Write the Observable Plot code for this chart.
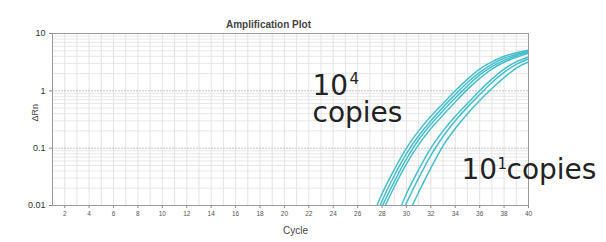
<!DOCTYPE html>
<html><head><meta charset="utf-8">
<script src="https://cdn.jsdelivr.net/npm/d3@7"></script>
<script src="https://cdn.jsdelivr.net/npm/@observablehq/plot@0.6"></script>
<style>html,body{margin:0;padding:0;background:#fff;}svg{display:block;}</style>
</head><body><div id="chart"></div>
<script>
const titleText = "Amplification Plot";
const xLabel = "Cycle";
const yLabel = "ΔRn";
const highLines = "10\ncopies";
const highExp = "4";
const lowBase = "10";
const lowExp = "1";
const lowWord = "copies";

const cycles = [27, 28, 29, 30, 31, 32, 33, 34, 35, 36, 37, 38, 39, 40];
const curveA = [0.005, 0.016, 0.042, 0.1, 0.2, 0.36, 0.6, 1.0, 1.6, 2.4, 3.2, 4.0, 4.6, 5.1];
const curveB = [0.0036, 0.012, 0.033, 0.08, 0.165, 0.3, 0.52, 0.86, 1.4, 2.1, 2.9, 3.7, 4.3, 4.9];
const curveC = [0.0028, 0.0095, 0.026, 0.065, 0.14, 0.26, 0.45, 0.75, 1.22, 1.9, 2.65, 3.4, 4.1, 4.7];
const curveD = [0.0022, 0.0075, 0.021, 0.053, 0.115, 0.22, 0.38, 0.64, 1.06, 1.65, 2.4, 3.15, 3.85, 4.5];
const curveE = [0.0007, 0.0018, 0.005, 0.016, 0.042, 0.1, 0.2, 0.36, 0.6, 1.0, 1.6, 2.4, 3.2, 3.9];
const curveF = [0.0005, 0.0013, 0.0035, 0.011, 0.03, 0.075, 0.16, 0.3, 0.52, 0.86, 1.4, 2.1, 2.9, 3.6];
const curveG = [0.0003, 0.0008, 0.002, 0.006, 0.017, 0.045, 0.11, 0.22, 0.4, 0.68, 1.1, 1.7, 2.5, 3.2];
const curveNames = ["A", "B", "C", "D", "E", "F", "G"];
const curveValues = [curveA, curveB, curveC, curveD, curveE, curveF, curveG];

const xTicks = [2, 4, 6, 8, 10, 12, 14, 16, 18, 20, 22, 24, 26, 28, 30, 32, 34, 36, 38, 40];
const yTicks = [0.01, 0.1, 1, 10];
const yTickLabels = ["0.01", "0.1", "1", "10"];
const gridCycles = d3.range(1, 41);
const gridMinorY = [0.02,0.03,0.04,0.05,0.06,0.07,0.08,0.09,0.2,0.3,0.4,0.5,0.6,0.7,0.8,0.9,2,3,4,5,6,7,8,9];

const rows = [];
curveNames.forEach((n, i) => cycles.forEach((c, j) => rows.push({curve: n, cycle: c, rn: curveValues[i][j]})));

const font = "Liberation Sans, Arial, sans-serif";
const bigFont = "DejaVu Sans, Verdana, sans-serif";
const big = {frameAnchor: "top-left", textAnchor: "start", lineAnchor: "bottom", fontSize: 28, fill: "#222", fontFamily: bigFont};
const sup = {frameAnchor: "top-left", textAnchor: "start", lineAnchor: "bottom", fontSize: 15, fill: "#222", fontFamily: bigFont};
const plot = Plot.plot({
  width: 606,
  height: 242,
  marginLeft: 52,
  marginRight: 78,
  marginTop: 33,
  marginBottom: 37,
  style: {fontFamily: font, background: "#fff", overflow: "visible"},
  x: {domain: [1, 40], label: null},
  y: {type: "log", domain: [0.01, 10], label: null},
  marks: [
    Plot.ruleX(gridCycles, {stroke: "#dcdcdc", strokeWidth: 0.8}),
    Plot.ruleY(gridMinorY, {stroke: "#e2e2e2", strokeWidth: 0.8}),
    Plot.ruleY([0.1, 1], {stroke: "#bdbdbd", strokeWidth: 0.9, strokeDasharray: "2,1"}),
    Plot.axisX({ticks: xTicks, tickSize: 3, tickPadding: 3, fontSize: 6.5, fill: "#555", stroke: "#888", label: null}),
    Plot.axisY({ticks: yTicks, tickFormat: (d) => yTickLabels[yTicks.indexOf(d)], tickSize: 3, tickPadding: 4, fontSize: 9, fill: "#333", stroke: "#888", label: null}),
    Plot.line(rows, {x: "cycle", y: "rn", z: "curve", stroke: "#46bfcc", strokeWidth: 1.5, curve: "monotone-x", clip: true}),
    Plot.frame({stroke: "#9a9a9a", strokeWidth: 1}),
    Plot.text([titleText], {frameAnchor: "top", dx: -22, dy: -13, fontSize: 10, fill: "#444", fontWeight: "bold", fontFamily: "Liberation Sans Narrow, Liberation Sans, sans-serif"}),
    Plot.text([xLabel], {frameAnchor: "bottom", dx: 5, dy: 28, fontSize: 10, fill: "#444"}),
    Plot.text([yLabel], {frameAnchor: "left", dx: -17, dy: 2, rotate: -90, fontSize: 9, fill: "#444"}),
    Plot.text([highLines], {...big, lineHeight: 0.93, dx: 260, dy: 88}),
    Plot.text([highExp], {...sup, dx: 297, dy: 50}),
    Plot.text([lowBase], {...big, dx: 409, dy: 145}),
    Plot.text([lowExp], {...sup, dx: 445, dy: 135}),
    Plot.text([lowWord], {...big, dx: 454, dy: 145})
  ]
});
document.getElementById("chart").appendChild(plot);
</script>
</body></html>
